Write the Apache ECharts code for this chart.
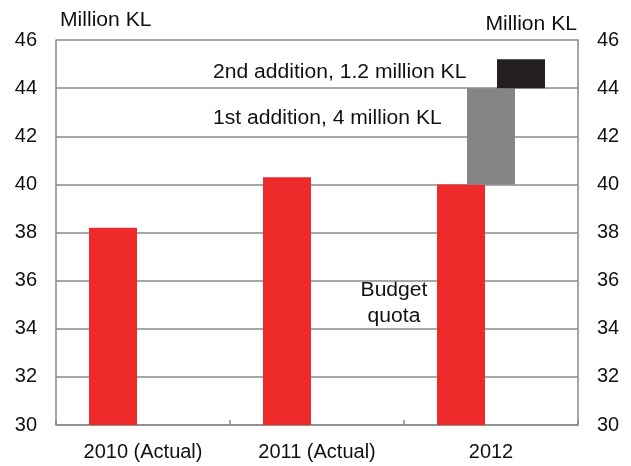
<!DOCTYPE html>
<html>
<head>
<meta charset="utf-8">
<script src="https://cdn.jsdelivr.net/npm/echarts@6/dist/echarts.min.js"></script>
<style>html,body{margin:0;padding:0;background:#fff}#c{width:631px;height:466px}</style>
</head>
<body>
<div id="c"></div>
<script>
const categories = ['2010 (Actual)', '2011 (Actual)', '2012'];
const budgetQuota = [38.2, 40.3, 40.0];
const firstAdditionBase = [null, null, 40];
const firstAddition = [null, null, 4];
const secondAdditionBase = [null, null, 44];
const secondAddition = [null, null, 1.2];
const yTicks = [30, 32, 34, 36, 38, 40, 42, 44, 46];

const FONT = '"Liberation Sans", Arial, sans-serif';
const FS = 20;
const SX = 1.055;
const chart = echarts.init(document.getElementById('c'), null, {renderer: 'canvas'});
const axisColor = '#8a8a8c';
const yAxisCommon = {
  type: 'value', min: yTicks[0], max: yTicks[yTicks.length - 1], interval: 2,
  axisLine: {show: true, lineStyle: {color: axisColor, width: 1.5}},
  axisTick: {show: false},
  axisLabel: {color: '#111', fontFamily: FONT, fontSize: FS, margin: 19}
};
function txt(x, y, text, align) {
  return {type: 'text', x: x, y: y, scaleX: SX,
    style: {text: text, font: FS + 'px ' + FONT, fill: '#111', align: align, verticalAlign: 'top', lineHeight: 26}};
}
chart.setOption({
  animation: false,
  backgroundColor: '#fff',
  grid: {left: 56, right: 53, top: 40, bottom: 41, containLabel: false},
  xAxis: {
    type: 'category', data: categories,
    axisLine: {lineStyle: {color: axisColor, width: 1.5}},
    axisTick: {show: true, inside: true, length: 5, interval: 0, lineStyle: {color: axisColor, width: 1.5}},
    axisLabel: {color: '#111', fontFamily: FONT, fontSize: FS, margin: 17}
  },
  yAxis: [
    Object.assign({}, yAxisCommon, {position: 'left', splitLine: {show: true, lineStyle: {color: axisColor, width: 1.5}}}),
    Object.assign({}, yAxisCommon, {position: 'right', splitLine: {show: false}})
  ],
  series: [
    {name: 'Budget quota', type: 'bar', stack: 'a', data: budgetQuota, barWidth: 48, barGap: '-37.5%',
     itemStyle: {color: '#EE2B2A'}},
    {name: 'base1', type: 'bar', stack: 'b', data: firstAdditionBase, barWidth: 48,
     itemStyle: {color: 'rgba(0,0,0,0)'}, silent: true},
    {name: '1st addition', type: 'bar', stack: 'b', data: firstAddition, barWidth: 48,
     itemStyle: {color: '#858587'}},
    {name: 'base2', type: 'bar', stack: 'c', data: secondAdditionBase, barWidth: 48,
     itemStyle: {color: 'rgba(0,0,0,0)'}, silent: true},
    {name: '2nd addition', type: 'bar', stack: 'c', data: secondAddition, barWidth: 48,
     itemStyle: {color: '#231F20'}}
  ],
  graphic: [
    txt(60, 7, 'Million KL', 'left'),
    txt(577, 11, 'Million KL', 'right'),
    txt(213, 59, '2nd addition, 1.2 million KL', 'left'),
    txt(213, 105, '1st addition, 4 million KL', 'left'),
    txt(394, 277, 'Budget\nquota', 'center')
  ]
});
</script>
</body>
</html>
